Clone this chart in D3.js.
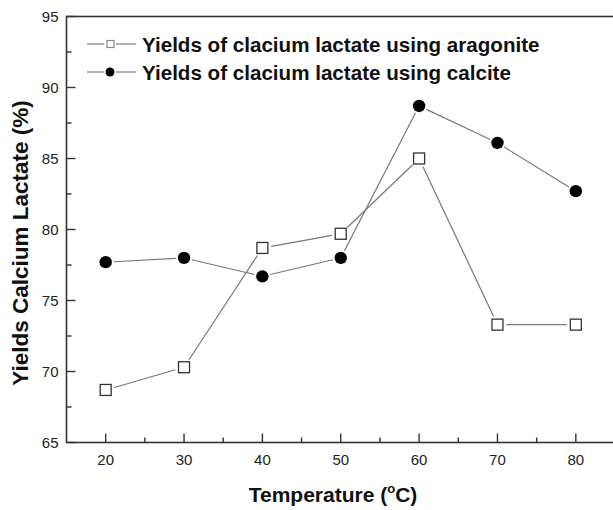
<!DOCTYPE html>
<html>
<head>
<meta charset="utf-8">
<script src="https://cdn.jsdelivr.net/npm/d3@7"></script>
<style>
  body { margin: 0; background: #fff; }
  svg { display: block; font-family: "Liberation Sans", Arial, sans-serif; }
</style>
</head>
<body>
<svg id="chart"></svg>
<script>
const temps = [20, 30, 40, 50, 60, 70, 80]
const aragonite = [68.7, 70.3, 78.7, 79.7, 85.0, 73.3, 73.3]
const calcite = [77.7, 78.0, 76.7, 78.0, 88.7, 86.1, 82.7]
const seriesNames = ['Yields of clacium lactate using aragonite', 'Yields of clacium lactate using calcite']
const xTicks = [20, 30, 40, 50, 60, 70, 80]
const yTicks = [65, 70, 75, 80, 85, 90, 95]

const width = 613
const height = 510
const margin = {top: 16.5, right: -2, bottom: 67.5, left: 66.5}

const svg = d3.select('#chart')
  .attr('width', width)
  .attr('height', height)

const x = d3.scaleLinear()
  .domain([15, 85])
  .range([margin.left, width - margin.right])

const y = d3.scaleLinear()
  .domain([65, 95])
  .range([height - margin.bottom, margin.top])

const axisColor = '#333'

// frame
svg.append('rect')
  .attr('x', x(15)).attr('y', y(95))
  .attr('width', x(85) - x(15)).attr('height', y(65) - y(95))
  .attr('fill', 'none').attr('stroke', axisColor).attr('stroke-width', 1.6)

// x axis, ticks inward
const xAxis = svg.append('g')
  .attr('transform', `translate(0,${y(65)})`)
xAxis.selectAll('line.major').data(xTicks).join('line')
  .attr('x1', d => x(d)).attr('x2', d => x(d))
  .attr('y1', 0).attr('y2', -9)
  .attr('stroke', axisColor).attr('stroke-width', 1.4)
xAxis.selectAll('line.minor').data(xTicks.map(d => d + 5).concat([15]).filter(d => d > 15 && d < 85)).join('line')
  .attr('x1', d => x(d)).attr('x2', d => x(d))
  .attr('y1', 0).attr('y2', -5)
  .attr('stroke', axisColor).attr('stroke-width', 1.4)
xAxis.selectAll('text').data(xTicks).join('text')
  .attr('x', d => x(d)).attr('y', 22)
  .attr('text-anchor', 'middle')
  .attr('font-size', 15).attr('fill', '#222')
  .text(d => d)

// y axis, ticks inward
const yAxis = svg.append('g')
  .attr('transform', `translate(${x(15)},0)`)
yAxis.selectAll('line.major').data(yTicks).join('line')
  .attr('x1', 0).attr('x2', 9)
  .attr('y1', d => y(d)).attr('y2', d => y(d))
  .attr('stroke', axisColor).attr('stroke-width', 1.4)
yAxis.selectAll('line.minor').data(yTicks.slice(0, -1).map(d => d + 2.5)).join('line')
  .attr('x1', 0).attr('x2', 5)
  .attr('y1', d => y(d)).attr('y2', d => y(d))
  .attr('stroke', axisColor).attr('stroke-width', 1.4)
yAxis.selectAll('text').data(yTicks).join('text')
  .attr('x', -8).attr('y', d => y(d) + 5)
  .attr('text-anchor', 'end')
  .attr('font-size', 15).attr('fill', '#222')
  .text(d => d)

// axis titles
svg.append('text')
  .attr('transform', `translate(28,243) rotate(-90)`)
  .attr('text-anchor', 'middle')
  .attr('font-size', 22.5).attr('font-weight', 'bold').attr('fill', '#111')
  .text('Yields Calcium Lactate (%)')

const xt = svg.append('text')
  .attr('x', 333).attr('y', 502)
  .attr('text-anchor', 'middle')
  .attr('font-size', 21).attr('font-weight', 'bold').attr('fill', '#111')
xt.append('tspan').text('Temperature (')
xt.append('tspan').attr('font-size', 13).attr('dy', -9).text('o')
xt.append('tspan').attr('dy', 9).text('C)')

// series lines with small gaps around markers
function segments(vals, gap) {
  const out = []
  for (let i = 0; i < vals.length - 1; i++) {
    const x0 = x(temps[i]), y0 = y(vals[i]), x1 = x(temps[i + 1]), y1 = y(vals[i + 1])
    const len = Math.hypot(x1 - x0, y1 - y0)
    const ux = (x1 - x0) / len, uy = (y1 - y0) / len
    out.push([x0 + ux * gap, y0 + uy * gap, x1 - ux * gap, y1 - uy * gap])
  }
  return out
}

const lineColor = '#777'

svg.append('g').selectAll('line').data(segments(aragonite, 9)).join('line')
  .attr('x1', d => d[0]).attr('y1', d => d[1]).attr('x2', d => d[2]).attr('y2', d => d[3])
  .attr('stroke', lineColor).attr('stroke-width', 1.2)

svg.append('g').selectAll('line').data(segments(calcite, 8)).join('line')
  .attr('x1', d => d[0]).attr('y1', d => d[1]).attr('x2', d => d[2]).attr('y2', d => d[3])
  .attr('stroke', lineColor).attr('stroke-width', 1.2)

svg.append('g').selectAll('rect').data(aragonite).join('rect')
  .attr('x', (d, i) => x(temps[i]) - 5.5).attr('y', d => y(d) - 5.5)
  .attr('width', 11).attr('height', 11)
  .attr('fill', '#fff').attr('stroke', '#333').attr('stroke-width', 1.3)

svg.append('g').selectAll('circle').data(calcite).join('circle')
  .attr('cx', (d, i) => x(temps[i])).attr('cy', d => y(d))
  .attr('r', 6.2).attr('fill', '#000')

// legend
const legend = svg.append('g')
const rows = [44, 72]
seriesNames.forEach((name, i) => {
  const g = legend.append('g').attr('transform', `translate(0,${rows[i]})`)
  g.append('line').attr('x1', 87).attr('x2', 104).attr('stroke', '#999').attr('stroke-width', 1.5)
  g.append('line').attr('x1', 116).attr('x2', 136).attr('stroke', '#999').attr('stroke-width', 1.5)
  if (i === 0) {
    g.append('rect').attr('x', 107).attr('y', -3.5).attr('width', 7).attr('height', 7)
      .attr('fill', '#fff').attr('stroke', '#888').attr('stroke-width', 1.2)
  } else {
    g.append('circle').attr('cx', 110).attr('cy', 0).attr('r', 4.5).attr('fill', '#000')
  }
  g.append('text').attr('x', 142).attr('y', 7.5)
    .attr('font-size', 20.6).attr('font-weight', 'bold').attr('fill', '#111')
    .text(name)
})
</script>
</body>
</html>
